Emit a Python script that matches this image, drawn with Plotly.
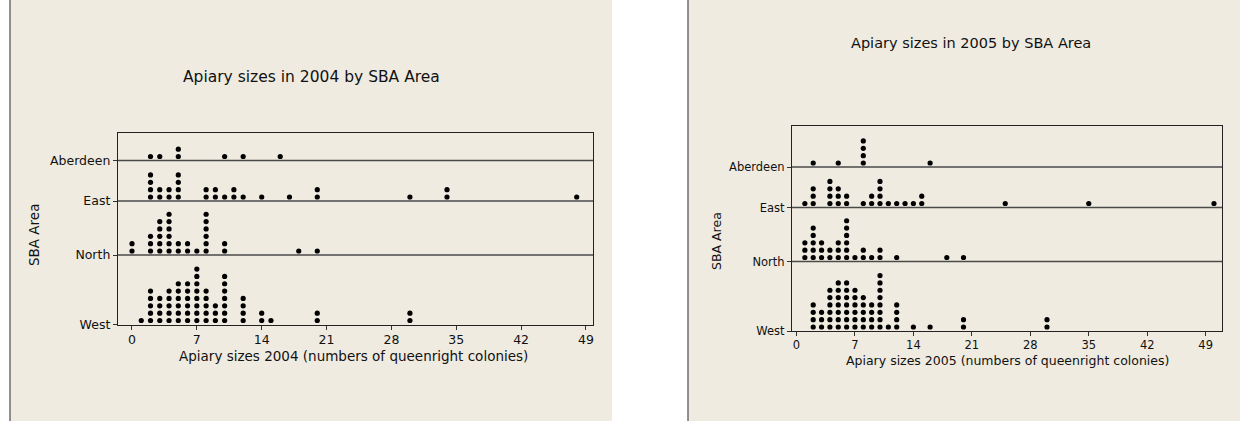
import plotly.graph_objects as go

# ---- data -------------------------------------------------------------
areas = ["Aberdeen", "East", "North", "West"]
x_ticks = [0, 7, 14, 21, 28, 35, 42, 49]

sizes_2004_aberdeen = [2, 3, 5, 5, 10, 12, 16]
sizes_2004_east = [2, 2, 2, 2, 3, 3, 4, 4, 5, 5, 5, 5, 8, 8, 9, 9, 10, 11, 11,
                   12, 14, 17, 20, 20, 30, 34, 34, 48]
sizes_2004_north = [0, 0, 2, 2, 2, 3, 3, 3, 3, 3, 4, 4, 4, 4, 4, 4, 5, 5, 6, 6,
                    7, 8, 8, 8, 8, 8, 8, 10, 10, 18, 20]
sizes_2004_west = [1, 2, 2, 2, 2, 2, 3, 3, 3, 3, 4, 4, 4, 4, 4, 5, 5, 5, 5, 5, 5,
                   6, 6, 6, 6, 6, 6, 7, 7, 7, 7, 7, 7, 7, 7, 8, 8, 8, 8, 8,
                   9, 9, 9, 10, 10, 10, 10, 10, 10, 10, 12, 12, 12, 12,
                   14, 14, 15, 20, 20, 30, 30]

sizes_2005_aberdeen = [2, 5, 8, 8, 8, 8, 16]
sizes_2005_east = [1, 2, 2, 2, 4, 4, 4, 4, 5, 5, 5, 6, 6, 8, 9, 9, 10, 10, 10, 10,
                   11, 12, 13, 14, 15, 15, 25, 35, 50]
sizes_2005_north = [1, 1, 1, 2, 2, 2, 2, 2, 3, 3, 3, 4, 4, 5, 5, 5, 6, 6, 6, 6, 6,
                    6, 7, 8, 8, 9, 10, 10, 12, 18, 20]
sizes_2005_west = [2, 2, 2, 2, 3, 3, 3, 4, 4, 4, 4, 4, 4, 5, 5, 5, 5, 5, 5, 5,
                   6, 6, 6, 6, 6, 6, 6, 7, 7, 7, 7, 7, 7, 8, 8, 8, 8, 8,
                   9, 9, 9, 9, 10, 10, 10, 10, 10, 10, 10, 10, 11, 12, 12, 12, 12,
                   14, 16, 20, 20, 30, 30]

# ---- layout constants (pixels) ----------------------------------------
W, H = 1240, 421
BEIGE = "#EFEBE1"
FONT = "DejaVu Sans"
# vertical position (px above the x axis) of each area's baseline
row_base = {"Aberdeen": 164, "East": 123.5, "North": 69.5, "West": 0}
DOT_OFFSET = 4.0
DOT_STEP = 7.35


def px_x(p):
    return p / W


def px_y(p):
    return 1 - p / H


def stack(values, base):
    """Stack repeated values vertically like a dot plot."""
    xs, ys, seen = [], [], {}
    for v in values:
        k = seen.get(v, 0)
        seen[v] = k + 1
        xs.append(v)
        ys.append(base + DOT_OFFSET + k * DOT_STEP)
    return xs, ys


panels = [
    dict(year="2004", xa="x", ya="y",
         rows=[sizes_2004_aberdeen, sizes_2004_east, sizes_2004_north, sizes_2004_west],
         frame=(118, 593, 133, 324.5), xrange=(-1.51, 49.76),
         title_xy=(311, 77), ytitle_xy=(34, 235), xtitle_xy=(353, 356),
         title_size=15.5, label_size=13.5, tick_size=12.5,
         bg=(10, 612)),
    dict(year="2005", xa="x2", ya="y2",
         rows=[sizes_2005_aberdeen, sizes_2005_east, sizes_2005_north, sizes_2005_west],
         frame=(792, 1222, 126, 331), xrange=(-0.54, 50.96),
         title_xy=(971, 43), ytitle_xy=(716, 241), xtitle_xy=(1007, 360),
         title_size=14.5, label_size=12.5, tick_size=11.5,
         bg=(688, 1240)),
]

fig = go.Figure()
shapes, annotations = [], []
layout_axes = {}

for i, p in enumerate(panels):
    sfx = "" if i == 0 else str(i + 1)
    x0, x1, y0, y1 = p["frame"]
    height_px = y1 - y0

    # panel background
    bx0, bx1 = p["bg"]
    shapes.append(dict(type="rect", xref="paper", yref="paper",
                       x0=px_x(bx0), x1=px_x(bx1), y0=0, y1=1,
                       fillcolor=BEIGE, line=dict(width=0), layer="below"))
    shapes.append(dict(type="line", xref="paper", yref="paper",
                       x0=px_x(bx0), x1=px_x(bx0), y0=0, y1=1,
                       line=dict(color="#6E6E6E", width=1.5), layer="below"))

    # dots
    for area, vals in zip(areas, p["rows"]):
        xs, ys = stack(vals, row_base[area])
        fig.add_trace(go.Scatter(
            x=xs, y=ys, mode="markers", xaxis=p["xa"], yaxis=p["ya"],
            marker=dict(color="black", size=5.2, line=dict(width=0)),
            showlegend=False, hoverinfo="x"))

    # row separator lines
    for area in areas[:-1]:
        shapes.append(dict(type="line", xref=f"{p['xa']} domain", yref=p["ya"],
                           x0=0, x1=1, y0=row_base[area], y1=row_base[area],
                           line=dict(color="#4A4A4A", width=1.3)))

    layout_axes[f"xaxis{sfx}"] = dict(
        domain=[px_x(x0), px_x(x1)], range=list(p["xrange"]),
        anchor=p["ya"], tickvals=x_ticks, ticks="outside", ticklen=4,
        ticklabelstandoff=-1,
        tickcolor="#333", showgrid=False, zeroline=False, automargin=False,
        showline=True, linecolor="#222", linewidth=1.3, mirror=True,
        tickfont=dict(family=FONT, size=p["tick_size"], color="#111"))
    layout_axes[f"yaxis{sfx}"] = dict(
        domain=[px_y(y1), px_y(y0)], range=[0, height_px],
        anchor=p["xa"], tickvals=[row_base[a] for a in areas], ticktext=areas,
        ticks="outside", ticklen=4, tickcolor="#333", showgrid=False,
        zeroline=False, showline=True, linecolor="#222", linewidth=1.3,
        mirror=True, automargin=False,
        tickfont=dict(family=FONT, size=p["tick_size"], color="#111"))

    tx, ty = p["title_xy"]
    annotations.append(dict(text=f"Apiary sizes in {p['year']} by SBA Area",
                            x=px_x(tx), y=px_y(ty), xref="paper", yref="paper",
                            showarrow=False, xanchor="center", yanchor="middle",
                            font=dict(family=FONT, size=p["title_size"], color="#111")))
    ax_, ay_ = p["xtitle_xy"]
    annotations.append(dict(text=f"Apiary sizes {p['year']} (numbers of queenright colonies)",
                            x=px_x(ax_), y=px_y(ay_), xref="paper", yref="paper",
                            showarrow=False, xanchor="center", yanchor="middle",
                            font=dict(family=FONT, size=p["label_size"], color="#111")))
    vx, vy = p["ytitle_xy"]
    annotations.append(dict(text="SBA Area", textangle=-90,
                            x=px_x(vx), y=px_y(vy), xref="paper", yref="paper",
                            showarrow=False, xanchor="center", yanchor="middle",
                            font=dict(family=FONT, size=p["label_size"], color="#111")))

fig.update_layout(
    template="none", autosize=False,
    width=W, height=H, margin=dict(l=0, r=0, t=0, b=0, pad=0),
    paper_bgcolor="white", plot_bgcolor="white",
    shapes=shapes, annotations=annotations, **layout_axes)

fig.write_html("out.html")
